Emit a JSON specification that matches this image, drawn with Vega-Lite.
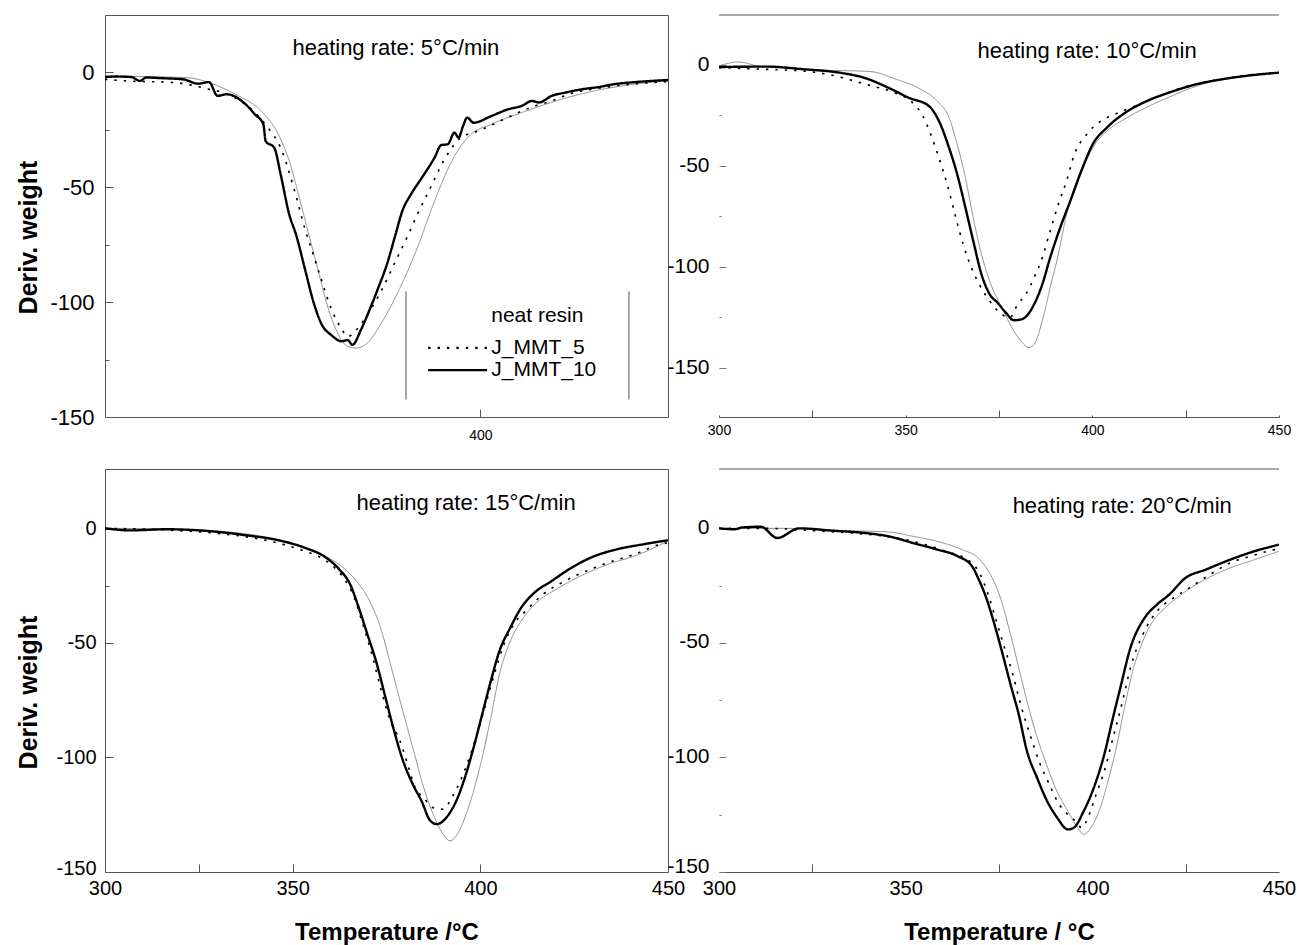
{
"$schema":"https://vega.github.io/schema/vega-lite/v6.json",
"background":"white",
"padding":{"left":15,"top":14,"right":0,"bottom":0},
"autosize":{"type":"pad"},
"columns":2,
"spacing":{"row":52,"column":51},
"bounds":"flush",
"resolve":{"scale":{"x":"independent","y":"independent"},"axis":{"x":"independent","y":"independent"}},
"config":{
 "view":{"stroke":"#555","strokeWidth":1},
 "axis":{"grid":false,"labelColor":"#000","tickColor":"#555","domainColor":"#555","labelFont":"Liberation Sans","titleFont":"Liberation Sans","titleColor":"#000","labelFlush":false,"labelOverlap":false,"tickWidth":1},
 "text":{"font":"Liberation Sans","color":"#000"}
},
"datasets":{
"p5":[
{"s":"neat resin","T":300,"D":-1.5},{"s":"neat resin","T":310,"D":-1.8},{"s":"neat resin","T":322,"D":-2.3},{"s":"neat resin","T":327.7,"D":-4.4},{"s":"neat resin","T":334.7,"D":-9.5},{"s":"neat resin","T":341.6,"D":-16.8},{"s":"neat resin","T":346.2,"D":-27},{"s":"neat resin","T":349.1,"D":-38.6},{"s":"neat resin","T":352,"D":-56},{"s":"neat resin","T":354.3,"D":-70.6},{"s":"neat resin","T":356.6,"D":-85},{"s":"neat resin","T":358.9,"D":-99.6},{"s":"neat resin","T":361.3,"D":-111},{"s":"neat resin","T":364.7,"D":-119.3},{"s":"neat resin","T":367,"D":-120},{"s":"neat resin","T":369.9,"D":-117.8},{"s":"neat resin","T":373.9,"D":-108.4},{"s":"neat resin","T":378.6,"D":-93.8},{"s":"neat resin","T":383.2,"D":-76.4},{"s":"neat resin","T":387.8,"D":-56},{"s":"neat resin","T":392.4,"D":-38.6},{"s":"neat resin","T":397,"D":-27.7},{"s":"neat resin","T":402.9,"D":-22.6},{"s":"neat resin","T":411,"D":-17.5},{"s":"neat resin","T":420.2,"D":-12.4},{"s":"neat resin","T":428.3,"D":-8.8},{"s":"neat resin","T":437.5,"D":-5.9},{"s":"neat resin","T":450,"D":-3.7},
{"s":"J_MMT_5","T":300,"D":-3},{"s":"J_MMT_5","T":305.8,"D":-3.7},{"s":"J_MMT_5","T":318.5,"D":-4.4},{"s":"J_MMT_5","T":326.6,"D":-6.9},{"s":"J_MMT_5","T":334.7,"D":-11},{"s":"J_MMT_5","T":343.4,"D":-24},{"s":"J_MMT_5","T":346.8,"D":-32.8},{"s":"J_MMT_5","T":350.3,"D":-50.3},{"s":"J_MMT_5","T":353.2,"D":-67.7},{"s":"J_MMT_5","T":355.5,"D":-79.3},{"s":"J_MMT_5","T":357.8,"D":-91},{"s":"J_MMT_5","T":360.2,"D":-102.6},{"s":"J_MMT_5","T":362.9,"D":-111.3},{"s":"J_MMT_5","T":364.7,"D":-115},{"s":"J_MMT_5","T":367,"D":-112},{"s":"J_MMT_5","T":370.5,"D":-104},{"s":"J_MMT_5","T":374,"D":-93.8},{"s":"J_MMT_5","T":377.4,"D":-82.2},{"s":"J_MMT_5","T":380.4,"D":-72},{"s":"J_MMT_5","T":383.2,"D":-61.9},{"s":"J_MMT_5","T":386.7,"D":-50.2},{"s":"J_MMT_5","T":390.7,"D":-37.1},{"s":"J_MMT_5","T":394.8,"D":-28.4},{"s":"J_MMT_5","T":399.4,"D":-25.5},{"s":"J_MMT_5","T":406.3,"D":-20.4},{"s":"J_MMT_5","T":413.3,"D":-15.3},{"s":"J_MMT_5","T":419,"D":-12.4},{"s":"J_MMT_5","T":423.6,"D":-9.5},{"s":"J_MMT_5","T":434,"D":-6.3},{"s":"J_MMT_5","T":450,"D":-4},
{"s":"J_MMT_10","T":300,"D":-2},{"s":"J_MMT_10","T":303,"D":-1.8},{"s":"J_MMT_10","T":307,"D":-2},{"s":"J_MMT_10","T":309.3,"D":-3.7},{"s":"J_MMT_10","T":311,"D":-2.2},{"s":"J_MMT_10","T":315,"D":-2.5},{"s":"J_MMT_10","T":320.8,"D":-3},{"s":"J_MMT_10","T":324.8,"D":-4.9},{"s":"J_MMT_10","T":327.7,"D":-4.2},{"s":"J_MMT_10","T":330,"D":-10.2},{"s":"J_MMT_10","T":332.4,"D":-9.5},{"s":"J_MMT_10","T":337,"D":-13.2},{"s":"J_MMT_10","T":339.9,"D":-18.2},{"s":"J_MMT_10","T":342.2,"D":-22.6},{"s":"J_MMT_10","T":342.8,"D":-29.9},{"s":"J_MMT_10","T":345.1,"D":-32.8},{"s":"J_MMT_10","T":346.8,"D":-44.4},{"s":"J_MMT_10","T":349.1,"D":-61.9},{"s":"J_MMT_10","T":350.9,"D":-70.6},{"s":"J_MMT_10","T":353.2,"D":-85.1},{"s":"J_MMT_10","T":355.5,"D":-99.7},{"s":"J_MMT_10","T":357.8,"D":-109.9},{"s":"J_MMT_10","T":360.2,"D":-114.2},{"s":"J_MMT_10","T":363,"D":-117},{"s":"J_MMT_10","T":364.7,"D":-116.5},{"s":"J_MMT_10","T":365.9,"D":-118.6},{"s":"J_MMT_10","T":368.2,"D":-112},{"s":"J_MMT_10","T":370.5,"D":-103.3},{"s":"J_MMT_10","T":372.8,"D":-93.8},{"s":"J_MMT_10","T":375.1,"D":-83.6},{"s":"J_MMT_10","T":377.4,"D":-70.6},{"s":"J_MMT_10","T":379.2,"D":-60.4},{"s":"J_MMT_10","T":381.5,"D":-53.1},{"s":"J_MMT_10","T":384.4,"D":-45.9},{"s":"J_MMT_10","T":387.8,"D":-37.1},{"s":"J_MMT_10","T":389.6,"D":-31.6},{"s":"J_MMT_10","T":391.3,"D":-31.3},{"s":"J_MMT_10","T":393.1,"D":-26.2},{"s":"J_MMT_10","T":394.2,"D":-28.4},{"s":"J_MMT_10","T":395.4,"D":-23.3},{"s":"J_MMT_10","T":396.5,"D":-19.7},{"s":"J_MMT_10","T":398.2,"D":-21.9},{"s":"J_MMT_10","T":402.9,"D":-19},{"s":"J_MMT_10","T":407.5,"D":-16},{"s":"J_MMT_10","T":411,"D":-14.6},{"s":"J_MMT_10","T":413.8,"D":-12.4},{"s":"J_MMT_10","T":415.6,"D":-13.1},{"s":"J_MMT_10","T":419,"D":-10.2},{"s":"J_MMT_10","T":422.6,"D":-8.8},{"s":"J_MMT_10","T":427.2,"D":-7.3},{"s":"J_MMT_10","T":431.8,"D":-6.3},{"s":"J_MMT_10","T":435.3,"D":-5.2},{"s":"J_MMT_10","T":439.9,"D":-4.4},{"s":"J_MMT_10","T":445.6,"D":-3.7},{"s":"J_MMT_10","T":450,"D":-3.3}
],
"p10":[
{"s":"neat resin","T":300,"D":-0.5},{"s":"neat resin","T":305.2,"D":1.5},{"s":"neat resin","T":310.6,"D":-0.5},{"s":"neat resin","T":317,"D":-1.3},{"s":"neat resin","T":328,"D":-2.6},{"s":"neat resin","T":337.7,"D":-3},{"s":"neat resin","T":340.9,"D":-3.3},{"s":"neat resin","T":347.5,"D":-7.1},{"s":"neat resin","T":354,"D":-12},{"s":"neat resin","T":358.4,"D":-17.8},{"s":"neat resin","T":361.6,"D":-26},{"s":"neat resin","T":363.8,"D":-39.3},{"s":"neat resin","T":366,"D":-55.8},{"s":"neat resin","T":368.1,"D":-75.6},{"s":"neat resin","T":370.3,"D":-93.7},{"s":"neat resin","T":372.5,"D":-107},{"s":"neat resin","T":375.7,"D":-120},{"s":"neat resin","T":379,"D":-131.7},{"s":"neat resin","T":381.7,"D":-138.3},{"s":"neat resin","T":382.8,"D":-140},{"s":"neat resin","T":384.4,"D":-138.3},{"s":"neat resin","T":386.6,"D":-126.7},{"s":"neat resin","T":388.7,"D":-110.2},{"s":"neat resin","T":390.9,"D":-93.7},{"s":"neat resin","T":393.1,"D":-73.9},{"s":"neat resin","T":395.2,"D":-60.7},{"s":"neat resin","T":397.9,"D":-49.2},{"s":"neat resin","T":400.7,"D":-39.3},{"s":"neat resin","T":403.9,"D":-32.7},{"s":"neat resin","T":409.3,"D":-26.1},{"s":"neat resin","T":414.7,"D":-20.8},{"s":"neat resin","T":420.2,"D":-16.2},{"s":"neat resin","T":425.6,"D":-12},{"s":"neat resin","T":431,"D":-8.7},{"s":"neat resin","T":436.4,"D":-6.6},{"s":"neat resin","T":441.9,"D":-5},{"s":"neat resin","T":450,"D":-3.8},
{"s":"J_MMT_5","T":300,"D":-1.3},{"s":"J_MMT_5","T":311.7,"D":-2.1},{"s":"J_MMT_5","T":322.6,"D":-3},{"s":"J_MMT_5","T":330.2,"D":-5},{"s":"J_MMT_5","T":335.6,"D":-7.6},{"s":"J_MMT_5","T":341,"D":-10.4},{"s":"J_MMT_5","T":347,"D":-13.7},{"s":"J_MMT_5","T":351.8,"D":-18.6},{"s":"J_MMT_5","T":354.6,"D":-25.2},{"s":"J_MMT_5","T":356.7,"D":-34.3},{"s":"J_MMT_5","T":358.9,"D":-45.9},{"s":"J_MMT_5","T":361.1,"D":-59},{"s":"J_MMT_5","T":363.2,"D":-73.9},{"s":"J_MMT_5","T":365.4,"D":-88.8},{"s":"J_MMT_5","T":367.6,"D":-100.3},{"s":"J_MMT_5","T":369.7,"D":-108.6},{"s":"J_MMT_5","T":372.5,"D":-116.8},{"s":"J_MMT_5","T":375.2,"D":-122.6},{"s":"J_MMT_5","T":377.9,"D":-125.1},{"s":"J_MMT_5","T":380,"D":-118.5},{"s":"J_MMT_5","T":382.2,"D":-113.5},{"s":"J_MMT_5","T":384.4,"D":-105.3},{"s":"J_MMT_5","T":386.6,"D":-95.4},{"s":"J_MMT_5","T":388.7,"D":-82.2},{"s":"J_MMT_5","T":390.9,"D":-69},{"s":"J_MMT_5","T":393.1,"D":-57.4},{"s":"J_MMT_5","T":395.2,"D":-44.2},{"s":"J_MMT_5","T":398.5,"D":-34.3},{"s":"J_MMT_5","T":401.7,"D":-28.5},{"s":"J_MMT_5","T":406.1,"D":-24.4},{"s":"J_MMT_5","T":410.4,"D":-21.1},{"s":"J_MMT_5","T":416.9,"D":-16.2},{"s":"J_MMT_5","T":425.6,"D":-10.4},{"s":"J_MMT_5","T":434.3,"D":-7.1},{"s":"J_MMT_5","T":441.9,"D":-5},{"s":"J_MMT_5","T":450,"D":-3.8},
{"s":"J_MMT_10","T":300,"D":-1},{"s":"J_MMT_10","T":312.8,"D":-0.8},{"s":"J_MMT_10","T":322.6,"D":-2.1},{"s":"J_MMT_10","T":332.3,"D":-3.8},{"s":"J_MMT_10","T":338.8,"D":-6.3},{"s":"J_MMT_10","T":345.3,"D":-11.2},{"s":"J_MMT_10","T":350.8,"D":-16.2},{"s":"J_MMT_10","T":356.2,"D":-20.3},{"s":"J_MMT_10","T":358.9,"D":-27.7},{"s":"J_MMT_10","T":361.6,"D":-40.9},{"s":"J_MMT_10","T":363.8,"D":-54.1},{"s":"J_MMT_10","T":366,"D":-70.6},{"s":"J_MMT_10","T":368.1,"D":-87.1},{"s":"J_MMT_10","T":370.3,"D":-103.6},{"s":"J_MMT_10","T":372.5,"D":-113.5},{"s":"J_MMT_10","T":374.6,"D":-117.7},{"s":"J_MMT_10","T":376.8,"D":-122.6},{"s":"J_MMT_10","T":379,"D":-126.4},{"s":"J_MMT_10","T":381.1,"D":-125.9},{"s":"J_MMT_10","T":382.8,"D":-123.4},{"s":"J_MMT_10","T":384.4,"D":-118.5},{"s":"J_MMT_10","T":386.6,"D":-108.6},{"s":"J_MMT_10","T":388.7,"D":-95.4},{"s":"J_MMT_10","T":391.4,"D":-80.5},{"s":"J_MMT_10","T":394.1,"D":-67.3},{"s":"J_MMT_10","T":397.4,"D":-50.8},{"s":"J_MMT_10","T":400.1,"D":-39.3},{"s":"J_MMT_10","T":403.9,"D":-31},{"s":"J_MMT_10","T":408.2,"D":-24.4},{"s":"J_MMT_10","T":414.7,"D":-17.8},{"s":"J_MMT_10","T":421.3,"D":-13.2},{"s":"J_MMT_10","T":427.8,"D":-9.6},{"s":"J_MMT_10","T":436.4,"D":-6.6},{"s":"J_MMT_10","T":443,"D":-5},{"s":"J_MMT_10","T":450,"D":-3.8}
],
"p15":[
{"s":"neat resin","T":300,"D":0},{"s":"neat resin","T":318.5,"D":-0.4},{"s":"neat resin","T":332.4,"D":-1.5},{"s":"neat resin","T":341.6,"D":-3.4},{"s":"neat resin","T":350.8,"D":-7},{"s":"neat resin","T":357.8,"D":-11.4},{"s":"neat resin","T":363.5,"D":-17.2},{"s":"neat resin","T":367,"D":-23},{"s":"neat resin","T":370.5,"D":-31.7},{"s":"neat resin","T":373.4,"D":-43.3},{"s":"neat resin","T":376.3,"D":-60.8},{"s":"neat resin","T":379.1,"D":-78.2},{"s":"neat resin","T":382,"D":-95.7},{"s":"neat resin","T":384.9,"D":-113.1},{"s":"neat resin","T":387.8,"D":-126.2},{"s":"neat resin","T":390.1,"D":-133.5},{"s":"neat resin","T":391.9,"D":-136.4},{"s":"neat resin","T":393.6,"D":-134.2},{"s":"neat resin","T":395.9,"D":-126.2},{"s":"neat resin","T":398.2,"D":-114.6},{"s":"neat resin","T":400.5,"D":-100},{"s":"neat resin","T":402.8,"D":-82.6},{"s":"neat resin","T":405.1,"D":-63.7},{"s":"neat resin","T":408,"D":-49.2},{"s":"neat resin","T":410.9,"D":-40.4},{"s":"neat resin","T":415.5,"D":-31.7},{"s":"neat resin","T":420.2,"D":-26.6},{"s":"neat resin","T":425.9,"D":-21.5},{"s":"neat resin","T":434,"D":-15.7},{"s":"neat resin","T":441,"D":-12.1},{"s":"neat resin","T":444.4,"D":-9.9},{"s":"neat resin","T":450,"D":-5.5},
{"s":"J_MMT_5","T":300,"D":0},{"s":"J_MMT_5","T":318.5,"D":-0.9},{"s":"J_MMT_5","T":332.4,"D":-2.6},{"s":"J_MMT_5","T":341.6,"D":-4.8},{"s":"J_MMT_5","T":347.4,"D":-7},{"s":"J_MMT_5","T":353.1,"D":-9.9},{"s":"J_MMT_5","T":358.3,"D":-13.5},{"s":"J_MMT_5","T":361.2,"D":-17.2},{"s":"J_MMT_5","T":363.5,"D":-21.5},{"s":"J_MMT_5","T":366.4,"D":-30.2},{"s":"J_MMT_5","T":368.7,"D":-41.9},{"s":"J_MMT_5","T":371.1,"D":-55},{"s":"J_MMT_5","T":373.4,"D":-69.5},{"s":"J_MMT_5","T":375.7,"D":-82.6},{"s":"J_MMT_5","T":378.6,"D":-92.8},{"s":"J_MMT_5","T":380.9,"D":-104.4},{"s":"J_MMT_5","T":382.6,"D":-113.1},{"s":"J_MMT_5","T":384.9,"D":-117.5},{"s":"J_MMT_5","T":387.2,"D":-121.8},{"s":"J_MMT_5","T":390.1,"D":-122.6},{"s":"J_MMT_5","T":392.4,"D":-117.5},{"s":"J_MMT_5","T":394.7,"D":-110.2},{"s":"J_MMT_5","T":397.1,"D":-100},{"s":"J_MMT_5","T":399.4,"D":-88.4},{"s":"J_MMT_5","T":401.7,"D":-75.3},{"s":"J_MMT_5","T":404,"D":-62.2},{"s":"J_MMT_5","T":406.3,"D":-50.6},{"s":"J_MMT_5","T":409.2,"D":-41.2},{"s":"J_MMT_5","T":412.1,"D":-36.1},{"s":"J_MMT_5","T":416.7,"D":-28.8},{"s":"J_MMT_5","T":422.5,"D":-23},{"s":"J_MMT_5","T":428.3,"D":-18.6},{"s":"J_MMT_5","T":434,"D":-15},{"s":"J_MMT_5","T":441,"D":-11.4},{"s":"J_MMT_5","T":447.9,"D":-7},{"s":"J_MMT_5","T":450,"D":-6.3},
{"s":"J_MMT_10","T":300,"D":0},{"s":"J_MMT_10","T":306.9,"D":-0.9},{"s":"J_MMT_10","T":316.2,"D":-0.4},{"s":"J_MMT_10","T":327.7,"D":-1.2},{"s":"J_MMT_10","T":337,"D":-2.9},{"s":"J_MMT_10","T":346.2,"D":-5.2},{"s":"J_MMT_10","T":353.1,"D":-8.4},{"s":"J_MMT_10","T":358.9,"D":-12.8},{"s":"J_MMT_10","T":362.4,"D":-17.9},{"s":"J_MMT_10","T":365.3,"D":-24.4},{"s":"J_MMT_10","T":367.6,"D":-34.6},{"s":"J_MMT_10","T":369.9,"D":-46.2},{"s":"J_MMT_10","T":372.2,"D":-57.9},{"s":"J_MMT_10","T":374.5,"D":-72.4},{"s":"J_MMT_10","T":376.8,"D":-87},{"s":"J_MMT_10","T":379.1,"D":-100},{"s":"J_MMT_10","T":382,"D":-111.7},{"s":"J_MMT_10","T":384.3,"D":-118.9},{"s":"J_MMT_10","T":386.7,"D":-127.7},{"s":"J_MMT_10","T":388.4,"D":-129.1},{"s":"J_MMT_10","T":391.3,"D":-125.5},{"s":"J_MMT_10","T":393.6,"D":-118.9},{"s":"J_MMT_10","T":395.9,"D":-108.7},{"s":"J_MMT_10","T":398.2,"D":-95.7},{"s":"J_MMT_10","T":400.5,"D":-81.1},{"s":"J_MMT_10","T":402.8,"D":-66.6},{"s":"J_MMT_10","T":405.1,"D":-53.5},{"s":"J_MMT_10","T":408,"D":-43.3},{"s":"J_MMT_10","T":410.9,"D":-34.6},{"s":"J_MMT_10","T":414.4,"D":-28.1},{"s":"J_MMT_10","T":419,"D":-23},{"s":"J_MMT_10","T":423.6,"D":-17.9},{"s":"J_MMT_10","T":429.4,"D":-12.8},{"s":"J_MMT_10","T":436.3,"D":-9.2},{"s":"J_MMT_10","T":443.3,"D":-7},{"s":"J_MMT_10","T":450,"D":-5.2}
],
"p20":[
{"s":"neat resin","T":300,"D":0},{"s":"neat resin","T":317.2,"D":0},{"s":"neat resin","T":333.5,"D":-1},{"s":"neat resin","T":345.5,"D":-1.6},{"s":"neat resin","T":352,"D":-3.5},{"s":"neat resin","T":358.5,"D":-5.7},{"s":"neat resin","T":365.1,"D":-9.3},{"s":"neat resin","T":369.4,"D":-12.9},{"s":"neat resin","T":372.7,"D":-20.2},{"s":"neat resin","T":375.4,"D":-30.4},{"s":"neat resin","T":378.1,"D":-46.4},{"s":"neat resin","T":380.3,"D":-60.9},{"s":"neat resin","T":382.5,"D":-75.4},{"s":"neat resin","T":384.7,"D":-88.5},{"s":"neat resin","T":387.4,"D":-101.6},{"s":"neat resin","T":390.1,"D":-113.2},{"s":"neat resin","T":393.4,"D":-123.4},{"s":"neat resin","T":396.1,"D":-130.7},{"s":"neat resin","T":397.7,"D":-133.6},{"s":"neat resin","T":399.3,"D":-131.4},{"s":"neat resin","T":402.1,"D":-122},{"s":"neat resin","T":404.2,"D":-110.3},{"s":"neat resin","T":406.4,"D":-95.8},{"s":"neat resin","T":408.6,"D":-78.4},{"s":"neat resin","T":410.8,"D":-62.4},{"s":"neat resin","T":413.5,"D":-49.3},{"s":"neat resin","T":416.2,"D":-40.6},{"s":"neat resin","T":419.5,"D":-34.7},{"s":"neat resin","T":423.8,"D":-28.9},{"s":"neat resin","T":429.3,"D":-23.1},{"s":"neat resin","T":436.9,"D":-17.3},{"s":"neat resin","T":443.4,"D":-13.7},{"s":"neat resin","T":450,"D":-10},
{"s":"J_MMT_5","T":300,"D":0},{"s":"J_MMT_5","T":311.8,"D":0},{"s":"J_MMT_5","T":328.1,"D":-1.3},{"s":"J_MMT_5","T":339,"D":-2.5},{"s":"J_MMT_5","T":349.8,"D":-4.9},{"s":"J_MMT_5","T":360.7,"D":-10},{"s":"J_MMT_5","T":367.2,"D":-14.4},{"s":"J_MMT_5","T":370,"D":-20.2},{"s":"J_MMT_5","T":372.1,"D":-28.9},{"s":"J_MMT_5","T":374.3,"D":-40.6},{"s":"J_MMT_5","T":376.5,"D":-52.2},{"s":"J_MMT_5","T":378.7,"D":-63.8},{"s":"J_MMT_5","T":380.8,"D":-76.9},{"s":"J_MMT_5","T":383,"D":-88.5},{"s":"J_MMT_5","T":385.7,"D":-101.6},{"s":"J_MMT_5","T":388.5,"D":-111.8},{"s":"J_MMT_5","T":390.6,"D":-119.1},{"s":"J_MMT_5","T":393.4,"D":-124.9},{"s":"J_MMT_5","T":395.5,"D":-127.8},{"s":"J_MMT_5","T":397.2,"D":-130.7},{"s":"J_MMT_5","T":398.8,"D":-126.3},{"s":"J_MMT_5","T":401,"D":-116.2},{"s":"J_MMT_5","T":403.2,"D":-106},{"s":"J_MMT_5","T":405.3,"D":-92.9},{"s":"J_MMT_5","T":408.1,"D":-75.4},{"s":"J_MMT_5","T":410.2,"D":-60.9},{"s":"J_MMT_5","T":413.5,"D":-46.4},{"s":"J_MMT_5","T":417.3,"D":-36.2},{"s":"J_MMT_5","T":421.7,"D":-30.4},{"s":"J_MMT_5","T":426,"D":-26},{"s":"J_MMT_5","T":431.5,"D":-20.2},{"s":"J_MMT_5","T":436.9,"D":-15.1},{"s":"J_MMT_5","T":442.3,"D":-12.2},{"s":"J_MMT_5","T":448.9,"D":-9.3},{"s":"J_MMT_5","T":450,"D":-9},
{"s":"J_MMT_10","T":300,"D":0},{"s":"J_MMT_10","T":304.1,"D":-0.4},{"s":"J_MMT_10","T":306.3,"D":0.4},{"s":"J_MMT_10","T":311.2,"D":0.7},{"s":"J_MMT_10","T":315.6,"D":-4.2},{"s":"J_MMT_10","T":321.5,"D":0},{"s":"J_MMT_10","T":330.2,"D":-1},{"s":"J_MMT_10","T":338.9,"D":-2},{"s":"J_MMT_10","T":345.5,"D":-3.5},{"s":"J_MMT_10","T":352,"D":-6.4},{"s":"J_MMT_10","T":358.5,"D":-9.3},{"s":"J_MMT_10","T":364,"D":-12.2},{"s":"J_MMT_10","T":367.8,"D":-16.6},{"s":"J_MMT_10","T":369.4,"D":-21.7},{"s":"J_MMT_10","T":371.6,"D":-30.4},{"s":"J_MMT_10","T":373.8,"D":-42},{"s":"J_MMT_10","T":376,"D":-55.1},{"s":"J_MMT_10","T":378.1,"D":-68.2},{"s":"J_MMT_10","T":380.3,"D":-81.3},{"s":"J_MMT_10","T":382.5,"D":-97.3},{"s":"J_MMT_10","T":385.2,"D":-108.9},{"s":"J_MMT_10","T":387.9,"D":-119.1},{"s":"J_MMT_10","T":390.6,"D":-126.3},{"s":"J_MMT_10","T":393.4,"D":-131.4},{"s":"J_MMT_10","T":395,"D":-130.7},{"s":"J_MMT_10","T":397.7,"D":-123.4},{"s":"J_MMT_10","T":400.4,"D":-113.2},{"s":"J_MMT_10","T":403.2,"D":-98.7},{"s":"J_MMT_10","T":405.3,"D":-84.2},{"s":"J_MMT_10","T":407.5,"D":-69.6},{"s":"J_MMT_10","T":410.2,"D":-52.2},{"s":"J_MMT_10","T":414,"D":-39.1},{"s":"J_MMT_10","T":417.3,"D":-33.3},{"s":"J_MMT_10","T":420.6,"D":-28.9},{"s":"J_MMT_10","T":424.9,"D":-21.7},{"s":"J_MMT_10","T":430.4,"D":-18},{"s":"J_MMT_10","T":436.9,"D":-13.7},{"s":"J_MMT_10","T":443.4,"D":-10},{"s":"J_MMT_10","T":450,"D":-7.1}
]
},
"concat":[
{
 "width":563,"height":402,
 "layer":[
  {"data":{"name":"p5"},"mark":{"type":"line","interpolate":"monotone","clip":true},
   "encoding":{
    "x":{"field":"T","type":"quantitative","scale":{"domain":[300,450],"nice":false,"zero":false},
         "axis":{"values":[400],"title":null,"labelFontSize":14,"tickSize":-8,"labelPadding":19,"domain":false}},
    "y":{"field":"D","type":"quantitative","scale":{"domain":[-150,25],"nice":false,"zero":false},
         "axis":{"values":[0,-25,-50,-75,-100,-125,-150],"labelExpr":"datum.value % 50 === 0 ? '' + datum.value : ''",
                 "tickSize":{"condition":{"test":"datum.value % 50 === 0","value":-8},"value":-4},
                 "labelPadding":19,"labelFontSize":22,"domain":false,
                 "title":"Deriv. weight","titleFontSize":25,"titleFontWeight":"bold","titleX":-77,"titleY":222,"titleBaseline":"middle","titleAngle":-90,"titleAlign":"center"}},
    "color":{"field":"s","type":"nominal","scale":{"domain":["neat resin","J_MMT_5","J_MMT_10"],"range":["#808080","#000000","#000000"]},"legend":null},
    "strokeWidth":{"field":"s","type":"ordinal","scale":{"domain":["neat resin","J_MMT_5","J_MMT_10"],"range":[0.9,2.4,2.2]},"legend":null},
    "strokeDash":{"field":"s","type":"nominal","scale":{"domain":["neat resin","J_MMT_5","J_MMT_10"],"range":[[1,0],[2.4,7],[1,0]]},"legend":null}
   }},
  {"data":{"values":[{}]},"mark":{"type":"text","fontSize":22,"align":"center","baseline":"middle"},
   "encoding":{"x":{"datum":377.5},"y":{"datum":10.7},"text":{"value":"heating rate: 5°C/min"}}},
  {"data":{"values":[{}]},"mark":{"type":"rule","color":"#555","strokeWidth":1},
   "encoding":{"x":{"datum":380.2},"y":{"datum":-95.3},"y2":{"datum":-142.4}}},
  {"data":{"values":[{}]},"mark":{"type":"rule","color":"#555","strokeWidth":1},
   "encoding":{"x":{"datum":439.6},"y":{"datum":-95.3},"y2":{"datum":-142.4}}},
  {"data":{"values":[{}]},"mark":{"type":"rule","color":"#000","strokeWidth":2.4,"strokeDash":[2.4,7]},
   "encoding":{"x":{"datum":386.1},"x2":{"datum":401.8},"y":{"datum":-119.9}}},
  {"data":{"values":[{}]},"mark":{"type":"rule","color":"#000","strokeWidth":2.2},
   "encoding":{"x":{"datum":386.1},"x2":{"datum":401.8},"y":{"datum":-129.6}}},
  {"data":{"values":[{}]},"mark":{"type":"text","fontSize":21,"align":"left","baseline":"middle"},
   "encoding":{"x":{"datum":402.9},"y":{"datum":-106.2},"text":{"value":"neat resin"}}},
  {"data":{"values":[{}]},"mark":{"type":"text","fontSize":21,"align":"left","baseline":"middle"},
   "encoding":{"x":{"datum":402.9},"y":{"datum":-119.9},"text":{"value":"J_MMT_5"}}},
  {"data":{"values":[{}]},"mark":{"type":"text","fontSize":21,"align":"left","baseline":"middle"},
   "encoding":{"x":{"datum":402.9},"y":{"datum":-129.6},"text":{"value":"J_MMT_10"}}}
 ]
},
{
 "width":560,"height":402,
 "view":{"stroke":null},
 "layer":[
  {"data":{"name":"p10"},"mark":{"type":"line","interpolate":"monotone","clip":true},
   "encoding":{
    "x":{"field":"T","type":"quantitative","scale":{"domain":[300,450],"nice":false,"zero":false},
         "axis":{"values":[300,325,350,375,400,425,450],"labelExpr":"datum.value % 50 === 0 ? '' + datum.value : ''",
                 "tickSize":{"condition":{"test":"datum.value % 50 === 0","value":-2},"value":-7},
                 "labelPadding":8,"labelFontSize":14,"domain":true,"title":null}},
    "y":{"field":"D","type":"quantitative","scale":{"domain":[-174.3,24.75],"nice":false,"zero":false},
         "axis":{"values":[0,-25,-50,-75,-100,-125,-150],"labelExpr":"datum.value % 50 === 0 ? '' + datum.value : ''",
                 "tickSize":{"condition":{"test":"datum.value % 50 === 0","value":-7},"value":-2},
                 "tickColor":"#777","labelPadding":17,"labelFontSize":21,"domain":false,"title":null}},
    "color":{"field":"s","type":"nominal","scale":{"domain":["neat resin","J_MMT_5","J_MMT_10"],"range":["#808080","#000000","#000000"]},"legend":null},
    "strokeWidth":{"field":"s","type":"ordinal","scale":{"domain":["neat resin","J_MMT_5","J_MMT_10"],"range":[0.9,2.4,2.2]},"legend":null},
    "strokeDash":{"field":"s","type":"nominal","scale":{"domain":["neat resin","J_MMT_5","J_MMT_10"],"range":[[1,0],[2.4,7],[1,0]]},"legend":null}
   }},
  {"data":{"values":[{}]},"mark":{"type":"rule","color":"#555","strokeWidth":1},"encoding":{"y":{"datum":24.75}}},
  {"data":{"values":[{}]},"mark":{"type":"text","fontSize":22,"align":"center","baseline":"middle"},
   "encoding":{"x":{"datum":398.6},"y":{"datum":6.9},"text":{"value":"heating rate: 10°C/min"}}}
 ]
},
{
 "width":563,"height":403,
 "layer":[
  {"data":{"name":"p15"},"mark":{"type":"line","interpolate":"monotone","clip":true},
   "encoding":{
    "x":{"field":"T","type":"quantitative","scale":{"domain":[300,450],"nice":false,"zero":false},
         "axis":{"values":[300,325,350,400,450],"labelExpr":"datum.value % 50 === 0 ? '' + datum.value : ''",
                 "tickSize":-8,"labelPadding":14,"labelFontSize":20,"domain":false,
                 "title":"Temperature /°C","titleFontSize":24,"titleFontWeight":"bold","titleY":60,"titleBaseline":"middle"}},
    "y":{"field":"D","type":"quantitative","scale":{"domain":[-150,25.9],"nice":false,"zero":false},
         "axis":{"values":[0,-25,-50,-100,-150],"labelExpr":"datum.value % 50 === 0 ? '' + datum.value : ''",
                 "tickSize":{"condition":{"test":"datum.value % 50 === 0","value":-8},"value":-4},
                 "labelOffset":{"condition":{"test":"datum.value === -150","value":-4},"value":0},
                 "labelPadding":17,"labelFontSize":20,"domain":false,
                 "title":"Deriv. weight","titleFontSize":25,"titleFontWeight":"bold","titleX":-77,"titleY":223,"titleBaseline":"middle","titleAngle":-90,"titleAlign":"center"}},
    "color":{"field":"s","type":"nominal","scale":{"domain":["neat resin","J_MMT_5","J_MMT_10"],"range":["#808080","#000000","#000000"]},"legend":null},
    "strokeWidth":{"field":"s","type":"ordinal","scale":{"domain":["neat resin","J_MMT_5","J_MMT_10"],"range":[0.9,2.4,2.2]},"legend":null},
    "strokeDash":{"field":"s","type":"nominal","scale":{"domain":["neat resin","J_MMT_5","J_MMT_10"],"range":[[1,0],[2.4,7],[1,0]]},"legend":null}
   }},
  {"data":{"values":[{}]},"mark":{"type":"text","fontSize":22,"align":"center","baseline":"middle"},
   "encoding":{"x":{"datum":396.2},"y":{"datum":11},"text":{"value":"heating rate: 15°C/min"}}}
 ]
},
{
 "width":560,"height":403,
 "view":{"stroke":null},
 "layer":[
  {"data":{"name":"p20"},"mark":{"type":"line","interpolate":"monotone","clip":true},
   "encoding":{
    "x":{"field":"T","type":"quantitative","scale":{"domain":[300,450],"nice":false,"zero":false},
         "axis":{"values":[300,325,350,375,400,425,450],"labelExpr":"datum.value % 50 === 0 ? '' + datum.value : ''",
                 "tickSize":{"condition":{"test":"datum.value % 50 === 0","value":0},"value":-8},
                 "labelPadding":6,"labelFontSize":20,"domain":true,
                 "title":"Temperature / °C","titleFontSize":24,"titleFontWeight":"bold","titleY":60,"titleBaseline":"middle"}},
    "y":{"field":"D","type":"quantitative","scale":{"domain":[-150,25.9],"nice":false,"zero":false},
         "axis":{"values":[0,-25,-50,-75,-100,-125,-150],"labelExpr":"datum.value % 50 === 0 ? '' + datum.value : ''",
                 "tickSize":{"condition":{"test":"datum.value % 50 === 0","value":-7},"value":-2},
                 "labelOffset":{"condition":{"test":"datum.value === -150","value":-6},"value":-1},
                 "tickColor":"#777","labelPadding":17,"labelFontSize":21,"domain":false,"title":null}},
    "color":{"field":"s","type":"nominal","scale":{"domain":["neat resin","J_MMT_5","J_MMT_10"],"range":["#808080","#000000","#000000"]},"legend":null},
    "strokeWidth":{"field":"s","type":"ordinal","scale":{"domain":["neat resin","J_MMT_5","J_MMT_10"],"range":[0.9,2.4,2.2]},"legend":null},
    "strokeDash":{"field":"s","type":"nominal","scale":{"domain":["neat resin","J_MMT_5","J_MMT_10"],"range":[[1,0],[2.4,7],[1,0]]},"legend":null}
   }},
  {"data":{"values":[{}]},"mark":{"type":"rule","color":"#555","strokeWidth":1},"encoding":{"y":{"datum":25.9}}},
  {"data":{"values":[{}]},"mark":{"type":"text","fontSize":22,"align":"center","baseline":"middle"},
   "encoding":{"x":{"datum":408},"y":{"datum":9.7},"text":{"value":"heating rate: 20°C/min"}}}
 ]
}
]
}
